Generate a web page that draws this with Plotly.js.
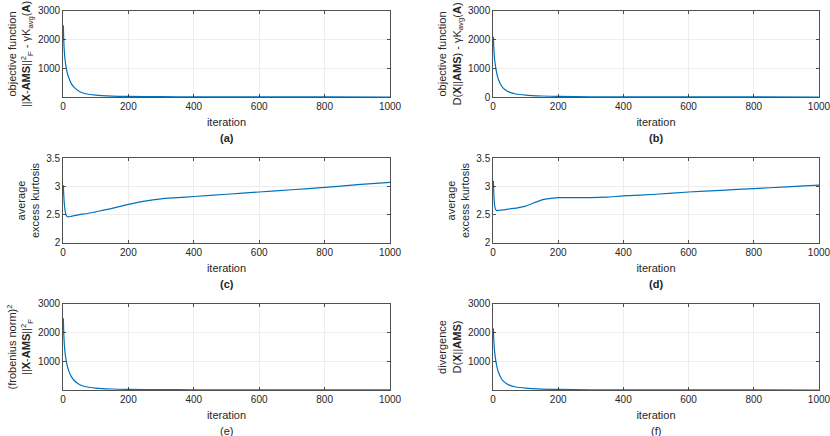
<!DOCTYPE html>
<html>
<head>
<meta charset="utf-8">
<script src="https://cdn.plot.ly/plotly-3.0.1.min.js"></script>
<style>
  html, body { margin: 0; padding: 0; background: #fff; }
  #chart { width: 830px; height: 436px; }
</style>
</head>
<body>
<div id="chart"></div>
<script>
const iterA = [1, 2, 3, 5, 8, 12, 17, 25, 35, 50, 70, 100, 150, 200, 300, 400, 600, 800, 1000];
const objFrob = [2500, 2100, 1800, 1450, 1150, 900, 700, 480, 330, 200, 120, 70, 40, 28, 18, 14, 10, 8, 7];
const objDiv = [2100, 1800, 1600, 1300, 1050, 800, 600, 400, 270, 170, 105, 65, 35, 20, 10, 6, 3, 2, 1];
const frobNorm = [2500, 2100, 1800, 1450, 1150, 900, 700, 480, 330, 200, 120, 72, 42, 30, 20, 15, 11, 9, 8];
const divergence = [2150, 1830, 1620, 1320, 1060, 810, 610, 410, 275, 172, 106, 66, 36, 21, 11, 7, 4, 3, 2];

const iterK = [1, 2, 3, 5, 8, 12, 16, 25, 50, 75, 100, 150, 200, 250, 300, 350, 400, 500, 600, 700, 800, 900, 1000];
const kurtC = [3.02, 2.88, 2.78, 2.63, 2.52, 2.47, 2.46, 2.47, 2.50, 2.52, 2.55, 2.61, 2.68, 2.74, 2.78, 2.80, 2.82, 2.86, 2.90, 2.94, 2.98, 3.03, 3.07];
const kurtD = [3.10, 2.95, 2.80, 2.66, 2.59, 2.57, 2.575, 2.58, 2.60, 2.62, 2.65, 2.76, 2.80, 2.80, 2.80, 2.81, 2.83, 2.86, 2.90, 2.93, 2.96, 2.99, 3.02];

const xTicks = [0, 200, 400, 600, 800, 1000];
const captions = ['(a)', '(b)', '(c)', '(d)', '(e)', '(f)'];

const lineColor = '#0072BD';
const axisColor = '#262626';
const fontFam = 'Liberation Sans, Arial, Helvetica, sans-serif';

const colDomains = [[0.0759, 0.4699], [0.594, 0.9867]];
const rowDomains = [[0.7775, 0.9748], [0.4427, 0.6376], [0.1055, 0.3028]];

const panels = [
  { x: iterA, y: objFrob, row: 0, col: 0, range: [6, 3000], ticks: [1000, 2000, 3000],
    title: 'objective function<br>||<b>X</b>-<b>AMS</b>||<sup>2</sup><sub>F</sub> - γK<sub>avg</sub>(<b>A</b>)' },
  { x: iterA, y: objDiv, row: 0, col: 1, range: [0, 3000], ticks: [0, 1000, 2000, 3000],
    title: 'objective function<br>D(<b>X</b>||<b>AMS</b>) - γK<sub>avg</sub>(<b>A</b>)' },
  { x: iterK, y: kurtC, row: 1, col: 0, range: [2, 3.5], ticks: [2, 2.5, 3, 3.5],
    title: 'average<br>excess kurtosis' },
  { x: iterK, y: kurtD, row: 1, col: 1, range: [2, 3.5], ticks: [2, 2.5, 3, 3.5],
    title: 'average<br>excess kurtosis' },
  { x: iterA, y: frobNorm, row: 2, col: 0, range: [7, 3000], ticks: [1000, 2000, 3000],
    title: '(frobenius norm)<sup>2</sup><br>||<b>X</b>-<b>AMS</b>||<sup>2</sup><sub>F</sub>' },
  { x: iterA, y: divergence, row: 2, col: 1, range: [2, 3000], ticks: [1000, 2000, 3000],
    title: 'divergence<br>D(<b>X</b>||<b>AMS</b>)' }
];

const traces = [];
const layout = {
  width: 830,
  height: 436,
  margin: { l: 0, r: 0, t: 0, b: 0 },
  paper_bgcolor: '#ffffff',
  plot_bgcolor: '#ffffff',
  showlegend: false,
  font: { family: fontFam, size: 10, color: axisColor },
  annotations: []
};

panels.forEach((p, i) => {
  const n = i + 1;
  const xa = n === 1 ? 'xaxis' : 'xaxis' + n;
  const ya = n === 1 ? 'yaxis' : 'yaxis' + n;
  traces.push({
    type: 'scatter',
    mode: 'lines',
    x: p.x,
    y: p.y,
    xaxis: 'x' + (n === 1 ? '' : n),
    yaxis: 'y' + (n === 1 ? '' : n),
    line: { color: lineColor, width: 1.2, shape: 'spline', smoothing: 0.6 },
    hoverinfo: 'x+y'
  });

  const common = {
    showline: true,
    linecolor: axisColor,
    linewidth: 0.8,
    mirror: 'ticks',
    ticks: 'inside',
    ticklen: 3,
    tickwidth: 0.8,
    tickcolor: axisColor,
    showgrid: true,
    gridcolor: '#e9e9e9',
    gridwidth: 0.8,
    zeroline: false,
    ticklabeloverflow: 'allow',
    tickfont: { family: fontFam, size: 10, color: axisColor }
  };

  layout[xa] = Object.assign({}, common, {
    domain: colDomains[p.col],
    anchor: 'y' + (n === 1 ? '' : n),
    range: [0, 1000],
    tickvals: xTicks,
    title: { text: 'iteration', font: { family: fontFam, size: 11, color: axisColor }, standoff: 7 }
  });
  layout[ya] = Object.assign({}, common, {
    domain: rowDomains[p.row],
    anchor: 'x' + (n === 1 ? '' : n),
    range: p.range,
    tickvals: p.ticks,
    title: { text: p.title, font: { family: fontFam, size: 11, color: axisColor }, standoff: 4 }
  });

  const bold = i < 4;
  layout.annotations.push({
    text: bold ? '<b>' + captions[i] + '</b>' : captions[i],
    xref: 'paper', yref: 'paper',
    x: (colDomains[p.col][0] + colDomains[p.col][1]) / 2,
    y: rowDomains[p.row][0] - 0.0933,
    xanchor: 'center', yanchor: 'middle',
    showarrow: false,
    font: { family: fontFam, size: 11, color: axisColor }
  });
});

Plotly.newPlot('chart', traces, layout, { staticPlot: true, displayModeBar: false });
</script>
</body>
</html>
